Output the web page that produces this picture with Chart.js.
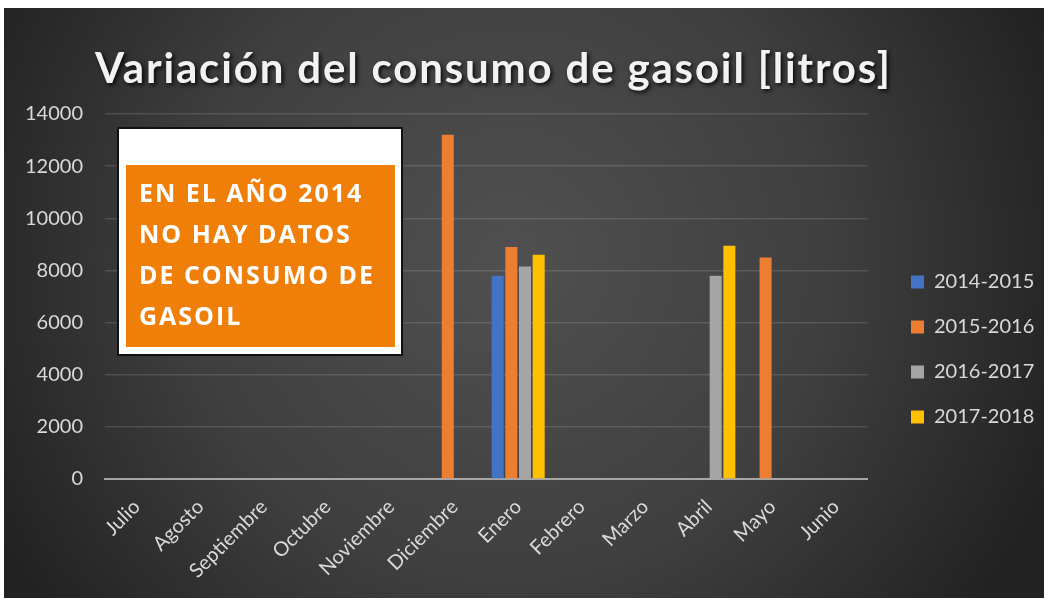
<!DOCTYPE html>
<html>
<head>
<meta charset="utf-8">
<script src="https://cdn.jsdelivr.net/npm/chart.js@4.4.1/dist/chart.umd.min.js"></script>
<style>
html,body{margin:0;padding:0;background:#ffffff;}
#wrap{width:1048px;height:606px;position:relative;}
</style>
</head>
<body>
<div id="wrap"><canvas id="c" width="1048" height="606"></canvas></div>
<script>
// ---- data ----
const categories = ['Julio','Agosto','Septiembre','Octubre','Noviembre','Diciembre','Enero','Febrero','Marzo','Abril','Mayo','Junio'];
const seriesLabels = ['2014-2015','2015-2016','2016-2017','2017-2018'];
const s2014_2015 = [null,null,null,null,null,null,7800,null,null,null,null,null];
const s2015_2016 = [null,null,null,null,null,13200,8900,null,null,null,8500,null];
const s2016_2017 = [null,null,null,null,null,null,8150,null,null,7800,null,null];
const s2017_2018 = [null,null,null,null,null,null,8600,null,null,8950,null,null];
const yTicks = [0,2000,4000,6000,8000,10000,12000,14000];
const titleText = 'Variación del consumo de gasoil [litros]';
const noteLines = ['EN EL AÑO 2014','NO HAY DATOS','DE CONSUMO DE','GASOIL'];
const seriesColors = ['#4472C4','#ED7D31','#A5A5A5','#FFC000'];

const TICK_FONT = 'Lato';

const bgPlugin = {
  id: 'bg',
  beforeDraw(chart) {
    const ctx = chart.ctx;
    ctx.save();
    ctx.fillStyle = '#ffffff';
    ctx.fillRect(0, 0, chart.width, chart.height);
    const g = ctx.createRadialGradient(510, 260, 0, 510, 260, 580);
    g.addColorStop(0, '#505050');
    g.addColorStop(0.55, '#3f3f3f');
    g.addColorStop(1, '#222222');
    ctx.fillStyle = g;
    ctx.fillRect(4, 8, 1040, 590);
    ctx.restore();
  }
};

function fitSpacing(ctx, text, targetWidth) {
  ctx.letterSpacing = '0px';
  const w = ctx.measureText(text).width;
  const n = [...text].length;
  return Math.max(-1, (targetWidth - w) / (n - 1));
}

const titlePlugin = {
  id: 'customTitle',
  afterDraw(chart) {
    const ctx = chart.ctx;
    ctx.save();
    ctx.font = '700 42px Lato';
    const sp = fitSpacing(ctx, titleText, 795);
    ctx.letterSpacing = sp + 'px';
    ctx.textAlign = 'left';
    ctx.textBaseline = 'alphabetic';
    ctx.shadowColor = 'rgba(0,0,0,0.85)';
    ctx.shadowOffsetX = 2;
    ctx.shadowOffsetY = 2;
    ctx.shadowBlur = 4;
    ctx.fillStyle = '#f2f2f2';
    ctx.fillText(titleText, 95, 83);
    ctx.restore();
  }
};

const notePlugin = {
  id: 'note',
  afterDraw(chart) {
    const ctx = chart.ctx;
    ctx.save();
    ctx.fillStyle = '#ffffff';
    ctx.fillRect(118, 128, 284, 227);
    ctx.strokeStyle = '#111111';
    ctx.lineWidth = 2;
    ctx.strokeRect(118, 128, 284, 227);
    ctx.fillStyle = '#F07F09';
    ctx.fillRect(126, 165, 269, 182);
    ctx.fillStyle = '#ffffff';
    ctx.font = '700 25px "Open Sans"';
    const sp = fitSpacing(ctx, noteLines[2], 234);
    ctx.letterSpacing = sp + 'px';
    ctx.textBaseline = 'alphabetic';
    noteLines.forEach((t, i) => ctx.fillText(t, 139, 202 + i * 41));
    ctx.restore();
  }
};

const legendShift = {
  id: 'legendShift',
  afterLayout(chart) {
    const lg = chart.legend;
    if (!lg) return;
    const dx = 911 - (lg.left + lg.options.labels.padding);
    const dy = -7;
    lg.left += dx; lg.right += dx;
    lg.top += dy; lg.bottom += dy;
  }
};

const datasets = [s2014_2015, s2015_2016, s2016_2017, s2017_2018].map((d, i) => ({
  label: seriesLabels[i],
  data: d,
  backgroundColor: seriesColors[i],
  borderWidth: 0,
  categoryPercentage: 0.86,
  barPercentage: 0.88
}));

new Chart(document.getElementById('c'), {
  type: 'bar',
  data: { labels: categories, datasets },
  plugins: [bgPlugin, legendShift, titlePlugin, notePlugin],
  options: {
    responsive: false,
    animation: false,
    devicePixelRatio: 1,
    layout: { padding: { top: 114, left: 3, right: 22, bottom: 7 } },
    plugins: {
      title: { display: false },
      tooltip: { enabled: false },
      legend: {
        position: 'right',
        align: 'center',
        labels: {
          font: { family: TICK_FONT, size: 20 },
          color: '#d9d9d9',
          boxWidth: 13,
          boxHeight: 13,
          padding: 25
        }
      }
    },
    scales: {
      x: {
        grid: { display: false, drawTicks: false },
        border: { display: true, color: '#a6a6a6', width: 2 },
        ticks: {
          font: { family: TICK_FONT, size: 20 },
          color: '#d9d9d9',
          minRotation: 45,
          maxRotation: 45,
          padding: 16,
          autoSkip: false
        }
      },
      y: {
        min: 0,
        max: 14000,
        afterBuildTicks(scale) { scale.ticks = yTicks.map(v => ({ value: v })); },
        grid: { color: 'rgba(255,255,255,0.13)', lineWidth: 1.5, drawTicks: false },
        border: { display: false },
        ticks: {
          font: { family: TICK_FONT, size: 20 },
          color: '#d9d9d9',
          padding: 22,
          callback: (v) => String(v)
        }
      }
    }
  }
});
</script>
</body>
</html>
